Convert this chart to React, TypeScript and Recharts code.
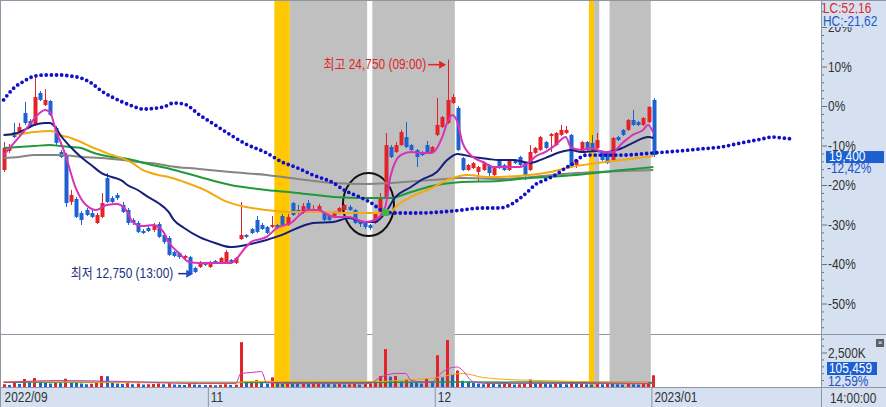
import React from 'react'
import { ComposedChart, Bar, Line, XAxis, YAxis, ReferenceArea, ReferenceDot } from 'recharts'

const FONT = '"Liberation Sans", "Noto Sans CJK KR", sans-serif'
const NARROW = 0.85
const PANEL = '#d5e1f0'
const FRAME = '#8d96a3'
const RED = '#e2242a'
const BLUE = '#1e62d2'

// 0% 기준가, 최저/최고
const BASE = 22150
const LOW = 12750
const HIGH = 24750
const LOW_SLOT = 36
const HIGH_SLOT = 86
const PCT_TOP = 26.84
const PCT_BOTTOM = -57.72
const SLOTS = 159

// [open, high, low, close]
const ohlc: number[][] = [
  [18560, 20130, 18450, 19800], [19630, 20020, 19520, 19850], [20690, 21200, 20360, 20410], [20530, 21200, 20470, 20970],
  [21760, 22380, 21090, 21200], [21310, 21420, 20920, 20970], [21090, 23780, 21030, 22660], [22880, 22990, 22430, 22490],
  [22210, 23100, 22150, 22490], [22430, 22490, 21590, 21650], [20920, 21030, 19910, 20080], [19570, 19680, 19230, 19290],
  [19400, 19520, 16490, 16710], [16770, 17440, 16600, 17160], [16940, 17050, 15870, 15930], [16150, 16260, 15480, 15760],
  [16320, 16430, 15980, 16040], [16150, 16320, 15870, 15930], [15590, 16150, 15530, 16040], [15930, 17270, 15870, 16710],
  [18110, 18390, 16710, 16770], [16990, 17100, 16710, 16770], [17160, 17270, 16880, 16990], [16600, 16770, 16150, 16210],
  [16320, 16430, 15480, 15590], [15760, 15870, 15480, 15590], [15590, 15700, 15030, 15090], [15140, 15250, 14970, 15030],
  [15310, 15420, 15090, 15140], [15200, 15590, 15090, 15480], [15530, 15650, 14750, 14810], [14920, 15030, 14410, 14520],
  [14750, 14860, 13740, 13800], [13960, 14020, 13680, 13740], [13910, 13960, 13570, 13680], [13630, 13800, 13570, 13740],
  [13680, 13740, 12750, 12790], [13070, 13130, 12790, 12840], [13120, 13460, 13070, 13400], [13350, 13400, 13180, 13240],
  [13120, 13460, 13070, 13400], [13460, 13520, 13290, 13350], [13350, 13680, 13290, 13630], [13400, 14080, 13350, 13960],
  [13520, 13570, 13290, 13350], [13350, 13680, 13290, 13630], [14690, 16770, 14640, 14920], [14920, 14970, 14750, 14810],
  [15250, 15310, 14970, 15030], [15760, 15980, 15030, 15090], [15480, 15590, 15200, 15250], [15370, 15420, 14970, 15030],
  [15370, 15980, 15310, 15480], [15480, 15530, 15250, 15310], [15980, 16100, 15420, 15480], [15480, 16100, 15420, 15930],
  [16710, 16770, 15980, 16040], [16320, 16600, 16100, 16150], [16150, 16710, 16100, 16540], [16710, 16880, 16320, 16380],
  [16210, 16600, 16150, 16380], [16210, 16660, 16150, 16540], [16210, 16260, 15700, 15760], [16040, 16100, 15700, 15760],
  [15930, 16260, 15870, 16210], [16150, 16490, 16100, 16430], [16320, 16660, 16260, 16600], [16490, 16600, 16260, 16320],
  [16320, 16380, 15530, 15590], [15650, 15700, 15370, 15530], [15590, 15650, 15250, 15370], [15480, 15530, 15200, 15310],
  [15590, 16210, 15530, 16150], [16150, 17270, 16100, 16990], [17050, 20640, 16990, 19960], [19850, 19960, 19230, 19290],
  [19570, 20130, 19520, 19960], [19960, 20810, 19910, 20690], [20410, 21250, 19800, 19850], [19960, 20020, 19630, 19680],
  [19680, 19740, 18730, 19290], [19570, 19630, 19350, 19400], [19960, 20190, 19460, 19520], [19570, 19910, 19520, 19850],
  [20530, 22600, 20470, 21090], [20970, 21590, 20920, 21530], [21200, 24750, 21140, 22490], [22320, 22820, 22260, 22660],
  [22040, 22150, 19630, 19680], [19230, 19290, 18510, 18560], [18560, 18900, 18510, 18840], [18670, 19010, 18620, 18950],
  [18450, 18790, 17890, 18730], [18560, 19010, 18510, 18950], [18840, 18900, 18110, 18390], [18280, 18730, 18230, 18670],
  [19120, 19180, 18620, 18670], [18840, 18900, 18510, 18560], [18560, 19180, 18510, 19120], [19120, 19180, 18900, 18950],
  [19290, 19350, 18790, 18840], [18950, 19010, 18000, 18280], [18560, 19960, 18510, 19570], [19520, 19850, 19460, 19800],
  [19680, 20470, 19630, 20410], [20130, 20190, 19740, 19800], [20470, 20640, 19570, 20580], [19960, 20690, 19910, 20640],
  [20530, 21090, 20470, 20810], [20640, 21030, 20580, 20810], [20530, 20580, 18670, 18730], [18840, 19180, 18670, 19120],
  [19570, 20190, 19520, 20130], [20130, 20190, 19630, 19680], [20080, 20530, 19630, 19680], [19800, 20640, 19680, 20240],
  [19570, 19630, 19070, 19120], [19570, 19630, 18900, 18950], [19120, 20410, 19070, 20360], [20410, 20470, 20190, 20240],
  [20810, 20860, 20470, 20530], [20810, 21420, 20750, 21370], [21370, 21930, 21030, 21090], [21250, 21310, 21030, 21090],
  [21090, 21530, 21030, 21480], [21250, 22150, 21200, 22100], [22490, 22600, 19290, 19400],
]

// 거래량 (천주)
const vols = [
  200, 150, 380, 220, 580, 300, 650, 420, 350, 250,
  300, 280, 600, 350, 300, 250, 200, 230, 300, 800,
  780, 300, 250, 220, 280, 200, 250, 180, 200, 220,
  250, 200, 280, 180, 160, 150, 250, 180, 160, 140,
  150, 130, 160, 200, 150, 170, 3250, 350, 420, 500,
  300, 250, 700, 300, 250, 350, 300, 250, 280, 220,
  250, 300, 250, 220, 200, 230, 180, 200, 250, 180,
  220, 250, 300, 800, 2750, 750, 800, 400, 550, 350,
  300, 250, 600, 400, 2300, 700, 3400, 900, 1200, 450,
  400, 300, 250, 200, 300, 220, 200, 230, 250, 180,
  200, 250, 550, 250, 300, 220, 200, 250, 230, 200,
  300, 220, 250, 200, 180, 220, 200, 250, 230, 200,
  180, 250, 200, 180, 220, 250, 850,
]

// 이동평균선 [slot, price]
const ma5Pts = [[0, 19400], [3, 20410], [5, 21090], [7, 21760], [8, 21930], [9, 21810], [10, 20920], [12, 19400], [14, 17550], [16, 16600], [18, 16320], [20, 16600], [22, 16660], [23, 16540], [24, 16210], [25, 15650], [27, 15420], [29, 15480], [31, 15090], [32, 14520], [34, 13910], [36, 13400], [38, 13350], [44, 13350], [47, 14240], [48, 14530], [51, 14810], [53, 15310], [56, 15650], [57, 15930], [59, 16320], [61, 16320], [63, 16040], [64, 15930], [67, 15930], [70, 15650], [72, 15760], [74, 16490], [75, 18170], [77, 19400], [79, 19570], [81, 19520], [83, 19520], [85, 20360], [86, 21200], [87, 21650], [88, 21250], [89, 20080], [91, 19290], [93, 19010], [95, 18730], [98, 18730], [100, 18730], [102, 19010], [103, 19290], [105, 19570], [107, 19960], [109, 20410], [110, 19850], [112, 19680], [114, 19800], [116, 19570], [118, 19570], [120, 20080], [122, 20530], [124, 20810], [125, 21090], [126, 20640]]
const ma20Pts = [[0, 20525], [2, 20580], [4, 20810], [6, 21090], [8, 21200], [9, 21200], [10, 20970], [11, 20525], [13, 19850], [15, 19290], [17, 18840], [19, 18390], [21, 18170], [23, 17950], [24, 17720], [26, 17440], [28, 17050], [30, 16710], [32, 16210], [33, 15760], [35, 15310], [38, 14800], [41, 14470], [44, 14240], [47, 14360], [51, 14640], [54, 14920], [57, 15310], [60, 15590], [64, 15650], [67, 15870], [70, 15650], [72, 15650], [74, 16150], [76, 17050], [79, 17610], [81, 18000], [84, 18450], [86, 19120], [88, 19460], [91, 19290], [94, 19180], [96, 19120], [99, 19120], [102, 18950], [105, 19230], [108, 19570], [110, 19680], [112, 19570], [115, 19630], [117, 19570], [120, 19800], [122, 20080], [125, 20410], [126, 20360]]
const ma60Pts = [[0, 20525], [3, 20580], [6, 20690], [9, 20750], [10, 20690], [11, 20525], [13, 20360], [15, 20130], [17, 19850], [19, 19630], [21, 19400], [23, 19230], [25, 18950], [27, 18560], [28, 18450], [30, 18280], [32, 18170], [35, 17890], [39, 17440], [43, 16820], [47, 16490], [51, 16320], [55, 16210], [58, 16210], [62, 16210], [67, 16150], [71, 16150], [75, 16150], [76, 16490], [79, 17050], [83, 17550], [86, 18000], [90, 18280], [94, 18170], [102, 18280], [106, 18450], [110, 18730], [115, 18950], [120, 19120], [126, 19350]]
const ma120Pts = [[0, 19800], [3, 19850], [6, 19910], [9, 19960], [11, 19910], [13, 19850], [15, 19800], [17, 19570], [19, 19400], [21, 19290], [23, 19230], [25, 19120], [28, 18900], [32, 18650], [38, 18170], [44, 17720], [51, 17440], [57, 17270], [64, 17050], [70, 16990], [75, 16990], [79, 17330], [84, 17720], [89, 17890], [96, 17950], [102, 18110], [111, 18280], [120, 18560], [126, 18730]]
const ma240Pts = [[0, 19240], [3, 19290], [6, 19400], [11, 19400], [15, 19290], [19, 19240], [23, 19120], [26, 19010], [30, 18900], [32, 18790], [38, 18620], [44, 18450], [51, 18280], [57, 18060], [64, 17830], [70, 17780], [75, 17830], [83, 18000], [89, 18110], [96, 18060], [111, 18390], [126, 18560]]
// 선행스팬 (26칸 앞)
const spanPts = [[0, 22490], [2, 23160], [4, 23550], [6, 23830], [8, 23890], [11, 23890], [13, 23830], [15, 23720], [17, 23440], [19, 22990], [21, 22660], [23, 22380], [25, 22150], [27, 21980], [31, 22100], [33, 22320], [35, 22260], [38, 21650], [41, 21090], [44, 20530], [47, 20020], [51, 19520], [54, 19010], [57, 18680], [60, 18280], [64, 17830], [66, 17440], [69, 17050], [71, 16770], [74, 16210], [76, 16150], [80, 16150], [87, 16260], [93, 16430], [96, 16430], [102, 17440], [103, 17720], [105, 18000], [107, 18280], [109, 18680], [110, 18840], [112, 19290], [113, 19400], [120, 19400], [126, 19520], [131, 19630], [135, 19740], [139, 19850], [143, 20080], [147, 20300], [149, 20410], [151, 20360], [153, 20300]]
// 거래량 이평
const vol5Pts = [[0, 330], [11, 470], [23, 400], [38, 250], [45, 250], [46, 980], [48, 1050], [50, 1120], [51, 330], [57, 250], [71, 250], [73, 690], [76, 980], [78, 980], [79, 470], [83, 330], [84, 700], [86, 1300], [88, 1450], [89, 1200], [91, 400], [94, 250], [126, 250]]
const vol20Pts = [[0, 400], [45, 300], [47, 400], [73, 400], [76, 470], [84, 690], [89, 980], [93, 690], [98, 540], [104, 470], [111, 400], [125, 330]]
const vol60Pts = [[0, 350], [50, 320], [90, 360], [126, 330]]

// 신호 구간 [from, to, kind]
const bands: [number, number, string][] = [
  [53, 55, 'y'], [56, 70, 'g'], [72, 87, 'g'], [114, 114, 'y'], [115, 115, 'g'], [118, 125, 'g'],
]
const monthSlots = [0, 40, 84, 126]
const monthLabels = ['2022/09', '11', '12', '2023/01']
const majorPcts = [20, 10, 0, -10, -20, -30, -40, -50]
const volTicks = [500, 1000, 1500, 2000, 2500, 3000, 3500]

const lastClose = ohlc[ohlc.length - 1][3]
const comma = (n: number) => n.toFixed(2).replace('.', ',')
const yMin = BASE * (1 + PCT_BOTTOM / 100)
const yMax = BASE * (1 + PCT_TOP / 100)

const rows: any[] = Array.from({ length: SLOTS }, (_, i) => {
  const r: any = { i }
  const k = ohlc[i]
  if (k) {
    r.o = k[0]; r.h = k[1]; r.l = k[2]; r.c = k[3]
    r.range = [k[2], k[1]]
  }
  if (i < vols.length) {
    r.vol = vols[i]
    r.volUp = i === 0 || vols[i] >= vols[i - 1]
  }
  return r
})
const put = (pts: number[][], key: string) => pts.forEach(([i, v]) => { rows[i][key] = v })
put(ma5Pts, 'ma5'); put(ma20Pts, 'ma20'); put(ma60Pts, 'ma60'); put(ma120Pts, 'ma120'); put(ma240Pts, 'ma240')
put(spanPts, 'span'); put(vol5Pts, 'v5'); put(vol20Pts, 'v20'); put(vol60Pts, 'v60')

const pctGrid: number[] = []
for (let p = -56; p <= 26; p += 2) pctGrid.push(p)
const priceTicks = [...pctGrid.map(p => BASE * (1 + p / 100)), lastClose]

// 좁은 글꼴 흉내
function NText({ x, y, fill, anchor, children }: any) {
  return (
    <text transform={`translate(${x} ${y}) scale(${NARROW} 1)`} fill={fill} textAnchor={anchor}
      fontSize={14} fontFamily={FONT}>{children}</text>
  )
}
const narrowDiv = { transform: `scaleX(${NARROW})`, transformOrigin: 'left', whiteSpace: 'nowrap' as const }

function Candle(props: any) {
  const { x, y, width, height, payload } = props
  if (!payload || payload.o == null) return null
  const { o, h, l, c } = payload
  const top = Math.min(y, y + height)
  const span = Math.abs(height)
  const toY = (p: number) => (h === l ? top : top + ((h - p) / (h - l)) * span)
  const color = c >= o ? RED : BLUE
  const r = Math.round(x + width / 2)
  const bt = toY(Math.max(o, c))
  const bb = toY(Math.min(o, c))
  return (
    <g>
      <line x1={r + 0.5} x2={r + 0.5} y1={top} y2={top + span} stroke={color} strokeWidth={1} />
      <rect x={r - 1.5} y={bt} width={4} height={Math.max(1, bb - bt)} fill={color} />
    </g>
  )
}

function VolBar(props: any) {
  const { x, y, width, height, payload } = props
  if (!payload || payload.vol == null) return null
  const r = Math.round(x + width / 2)
  return <rect x={r - 1} y={y} width={3} height={Math.max(1, height)} fill={payload.volUp ? RED : BLUE} />
}

function PriceTick(props: any) {
  const { x, y, payload } = props
  const v = payload.value
  if (v === lastClose) {
    return (
      <g>
        <rect x={x + 5} y={y - 4} width={58} height={12} fill="#1c5fd0" />
        <NText x={x + 8} y={y + 6} fill="#fff">{lastClose.toLocaleString('en-US')}</NText>
        <NText x={x + 6} y={y + 18} fill="#1d4fc6">{comma((lastClose / BASE - 1) * 100)}%</NText>
      </g>
    )
  }
  const pct = Math.round((v / BASE - 1) * 100)
  const major = majorPcts.includes(pct)
  return (
    <g>
      <line x1={x} x2={x + (major ? 6 : 3)} y1={y + 0.5} y2={y + 0.5} stroke="#66707d" />
      {major && <NText x={x + 7} y={y + 5} fill="#333">{pct}%</NText>}
    </g>
  )
}

function VolTick(props: any) {
  const { x, y, payload } = props
  const major = payload.value === 2500
  return (
    <g>
      <line x1={x} x2={x + (major ? 6 : 3)} y1={y + 0.5} y2={y + 0.5} stroke="#66707d" />
      {major && <NText x={x + 7} y={y + 5} fill="#333">2,500K</NText>}
    </g>
  )
}

function MonthTick(props: any) {
  const { x, y, payload } = props
  const idx = monthSlots.indexOf(payload.value)
  return (
    <g>
      {idx > 0 && <line x1={x - 1.5} x2={x - 1.5} y1={y} y2={y + 20} stroke={FRAME} />}
      <NText x={x + 1} y={y + 15} fill="#333">{monthLabels[idx]}</NText>
    </g>
  )
}

const bandFill = (k: string) => (k === 'y' ? '#ffc800' : '#c0c0c0')

const HighMark = (p: any) => (
  <g>
    <NText x={p.cx - 21} y={p.cy + 9} fill={RED} anchor="end">최고 {HIGH.toLocaleString('en-US')} (09:00)</NText>
    <line x1={p.cx - 19} x2={p.cx - 6} y1={p.cy + 5} y2={p.cy + 5} stroke={RED} strokeWidth={1.5} />
    <polygon points={`${p.cx - 1},${p.cy + 5} ${p.cx - 8},${p.cy + 1} ${p.cx - 8},${p.cy + 9}`} fill={RED} />
  </g>
)

const LowMark = (p: any) => (
  <g>
    <NText x={p.cx - 16} y={p.cy + 4} fill="#1f2f80" anchor="end">최저 {LOW.toLocaleString('en-US')} (13:00)</NText>
    <line x1={p.cx - 11} x2={p.cx - 2} y1={p.cy} y2={p.cy} stroke="#1f2f80" strokeWidth={1.5} />
    <polygon points={`${p.cx + 4},${p.cy} ${p.cx - 3},${p.cy - 4} ${p.cx - 3},${p.cy + 4}`} fill="#1f4fd0" />
  </g>
)

const maLine = (key: string, color: string, w = 2) => (
  <Line key={key} dataKey={key} stroke={color} strokeWidth={w} dot={false} activeDot={false}
    connectNulls type="monotone" isAnimationActive={false} />
)

export default function App() {
  return (
    <div style={{ position: 'absolute', left: 0, top: 0, width: 886, height: 407, background: '#fff', overflow: 'hidden', fontFamily: FONT }}>
      <div style={{ position: 'absolute', left: 821, top: 0, width: 65, height: 407, background: PANEL }} />
      <div style={{ position: 'absolute', left: 0, top: 388, width: 886, height: 19, background: PANEL }} />
      <div style={{ position: 'absolute', left: 0, top: 334, width: 886, height: 1, background: FRAME }} />

      <div style={{ position: 'absolute', left: 0, top: 0 }}>
        <ComposedChart width={886} height={334} data={rows} margin={{ top: 0, right: 0, bottom: 0, left: 1 }}>
          <XAxis dataKey="i" type="number" domain={[-0.5, 158.5]} hide allowDataOverflow />
          <YAxis orientation="right" width={65} domain={[yMin, yMax]} allowDataOverflow ticks={priceTicks}
            interval={0} tick={PriceTick} tickLine={false} tickSize={0} tickMargin={0} axisLine={false} />
          {bands.map(([s, e, k], n) => (
            <ReferenceArea key={n} x1={s - 0.5} x2={e + 0.5} fill={bandFill(k)} fillOpacity={1} stroke="none" />
          ))}
          {maLine('ma240', '#858585')}
          {maLine('ma120', '#1e9a3c')}
          {maLine('ma60', '#f2aa10')}
          <Line dataKey="span" stroke="#1010c8" strokeWidth={3.8} strokeDasharray="0 5.15" strokeLinecap="round"
            dot={false} activeDot={false} connectNulls type="monotone" isAnimationActive={false} />
          <Bar dataKey="range" barSize={4} shape={Candle} isAnimationActive={false} />
          {maLine('ma20', '#16207a')}
          {maLine('ma5', '#d633b8')}
          <ReferenceArea x1={65.8} x2={75.7} y1={14860} y2={18390} ifOverflow="visible"
            shape={(p: any) => (
              <ellipse cx={p.x + p.width / 2} cy={p.y + p.height / 2} rx={Math.abs(p.width) / 2}
                ry={Math.abs(p.height) / 2} fill="none" stroke="#111" strokeWidth={2} />
            )} />
          <ReferenceDot x={74} y={16210} r={3} ifOverflow="visible"
            shape={(p: any) => <rect x={p.cx - 3} y={p.cy - 3} width={7} height={7} fill="#3cb846" />} />
          <ReferenceDot x={HIGH_SLOT} y={HIGH} r={1} ifOverflow="visible" shape={HighMark} />
          <ReferenceDot x={LOW_SLOT} y={LOW} r={1} ifOverflow="visible" shape={LowMark} />
        </ComposedChart>
      </div>

      <div style={{ position: 'absolute', left: 0, top: 334 }}>
        <ComposedChart width={886} height={73} data={rows} margin={{ top: 0, right: 0, bottom: 0, left: 1 }}>
          <XAxis dataKey="i" type="number" domain={[-0.5, 158.5]} allowDataOverflow ticks={monthSlots} interval={0}
            height={20} tick={MonthTick} tickLine={false} tickSize={0} tickMargin={0} axisLine={false} />
          <YAxis orientation="right" width={65} domain={[0, 3842]} allowDataOverflow ticks={volTicks} interval={0}
            tick={VolTick} tickLine={false} tickSize={0} tickMargin={0} axisLine={false} />
          {bands.map(([s, e, k], n) => (
            <ReferenceArea key={n} x1={s - 0.5} x2={e + 0.5} fill={bandFill(k)} fillOpacity={1} stroke="none" />
          ))}
          <Bar dataKey="vol" barSize={3} shape={VolBar} isAnimationActive={false} />
          {maLine('v60', '#1e9a3c', 1.5)}
          {maLine('v20', '#f2aa10', 1)}
          {maLine('v5', '#d633b8', 1)}
        </ComposedChart>
      </div>

      <div style={{ position: 'absolute', left: 0, top: 0, width: 886, height: 1, background: FRAME }} />
      <div style={{ position: 'absolute', left: 0, top: 0, width: 1, height: 407, background: FRAME }} />
      <div style={{ position: 'absolute', left: 0, top: 387, width: 886, height: 1, background: FRAME }} />
      <div style={{ position: 'absolute', left: 821, top: 0, width: 1, height: 407, background: FRAME }} />

      <div style={{ position: 'absolute', left: 823, top: 1, fontSize: 14, lineHeight: '14px', color: RED, ...narrowDiv }}>
        LC:{comma((lastClose / LOW - 1) * 100)}
      </div>
      <div style={{ position: 'absolute', left: 822, top: 14, width: 64, height: 13, background: PANEL }} />
      <div style={{ position: 'absolute', left: 823, top: 14, fontSize: 14, lineHeight: '14px', color: '#2158c8', ...narrowDiv }}>
        HC:{comma((lastClose / HIGH - 1) * 100)}
      </div>

      <div style={{ position: 'absolute', left: 876, top: 339, width: 8, height: 8, background: '#5a5f66', color: '#fff', fontSize: 8, lineHeight: '8px', textAlign: 'center' }}>×</div>
      <div style={{ position: 'absolute', left: 827, top: 362, width: 50, height: 13, background: '#1c5fd0' }} />
      <div style={{ position: 'absolute', left: 829, top: 362, fontSize: 14, lineHeight: '13px', color: '#fff', ...narrowDiv }}>105,459</div>
      <div style={{ position: 'absolute', left: 828, top: 375, fontSize: 14, lineHeight: '12px', color: '#1d4fc6', ...narrowDiv }}>12,59%</div>
      <div style={{ position: 'absolute', left: 830, top: 390, fontSize: 14, lineHeight: '16px', color: '#333', ...narrowDiv }}>14:00:00</div>
    </div>
  )
}
